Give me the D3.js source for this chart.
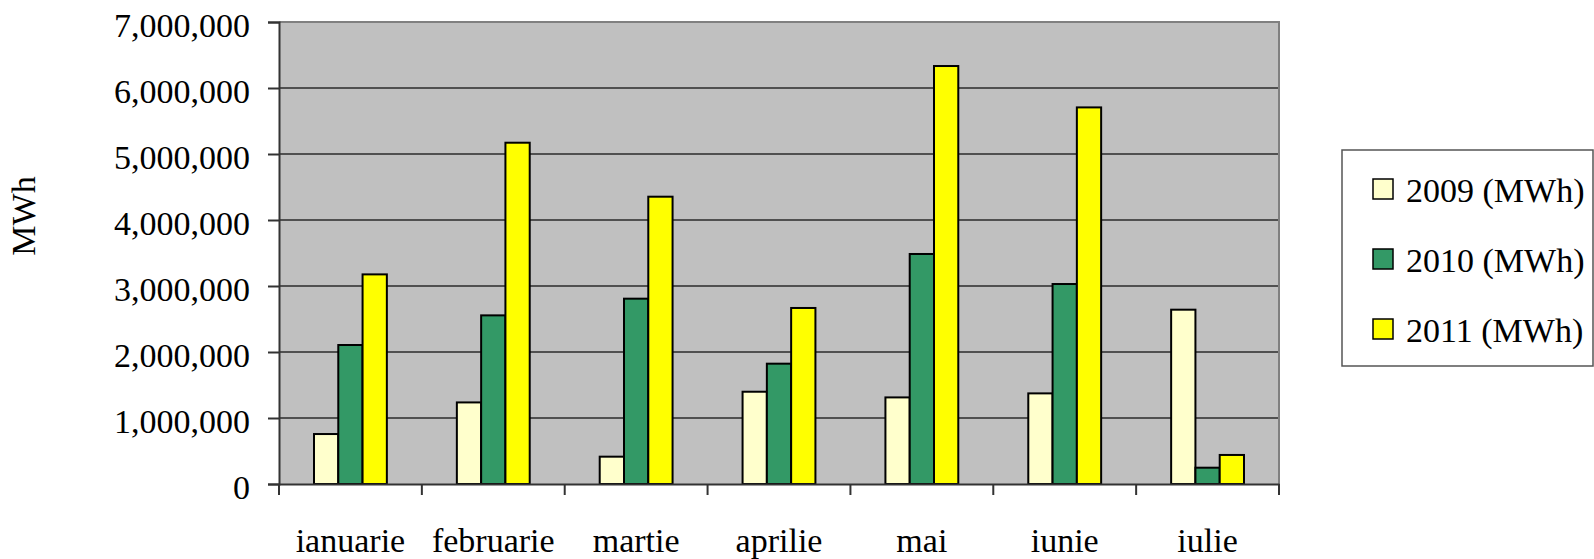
<!DOCTYPE html>
<html>
<head>
<meta charset="utf-8">
<script src="https://cdn.jsdelivr.net/npm/d3@7"></script>
<style>
  body { margin: 0; background: #fff; }
  svg { display: block; }
  text { font-family: "Liberation Serif", "Times New Roman", serif; fill: #000; }
</style>
</head>
<body>
<svg id="chart"></svg>
<script>
var months = ["ianuarie", "februarie", "martie", "aprilie", "mai", "iunie", "iulie"];
var seriesNames = ["2009 (MWh)", "2010 (MWh)", "2011 (MWh)"];
var values2009 = [757000, 1236000, 414000, 1398000, 1312000, 1373000, 2641000];
var values2010 = [2106000, 2555000, 2808000, 1823000, 3485000, 3030000, 247000];
var values2011 = [3176000, 5171000, 4353000, 2667000, 6333000, 5706000, 440000];
var yTicks = [0, 1000000, 2000000, 3000000, 4000000, 5000000, 6000000, 7000000];
var colors = ["#FFFFCC", "#339966", "#FFFF00"];

var allValues = [values2009, values2010, values2011];

var W = 1594, H = 559;
var margin = {top: 22, right: 315, bottom: 75, left: 279};
var width = W - margin.left - margin.right,
    height = H - margin.top - margin.bottom;

var svg = d3.select("svg#chart")
            .attr("width", W)
            .attr("height", H);

var g = svg.append("g")
           .attr("transform", "translate(" + margin.left + "," + margin.top + ")");

var x0 = d3.scaleBand().domain(months).range([0, width]).padding(0);
var groupW = x0.bandwidth() * 0.51;
var x1 = d3.scaleBand().domain(seriesNames).range([0, groupW]);
var y = d3.scaleLinear().domain([0, 7000000]).range([height, 0]);

// plot background
g.append("rect")
  .attr("x", 0).attr("y", 0)
  .attr("width", width).attr("height", height)
  .attr("fill", "#C0C0C0");

// gridlines
g.selectAll(".grid")
  .data(yTicks.slice(1, -1))
  .enter().append("line")
  .attr("class", "grid")
  .attr("x1", 0).attr("x2", width)
  .attr("y1", function(d) { return y(d); })
  .attr("y2", function(d) { return y(d); })
  .attr("stroke", "#505050")
  .attr("stroke-width", 2);

// top and right border
g.append("path")
  .attr("d", "M0," + y(7000000) + "H" + width + "V" + height)
  .attr("fill", "none")
  .attr("stroke", "#808080")
  .attr("stroke-width", 2);

// bars
var groups = g.selectAll(".month")
  .data(months)
  .enter().append("g")
  .attr("class", "month")
  .attr("transform", function(d) {
    return "translate(" + (x0(d) + (x0.bandwidth() - groupW) / 2) + ",0)";
  });

groups.selectAll("rect")
  .data(function(d, i) {
    return seriesNames.map(function(s, j) { return {s: s, j: j, v: allValues[j][i]}; });
  })
  .enter().append("rect")
  .attr("x", function(d) { return x1(d.s); })
  .attr("y", function(d) { return y(d.v); })
  .attr("width", x1.bandwidth())
  .attr("height", function(d) { return height - y(d.v); })
  .attr("fill", function(d) { return colors[d.j]; })
  .attr("stroke", "#000")
  .attr("stroke-width", 2);

// y axis
var yAxis = g.append("g")
  .call(d3.axisLeft(y).tickValues(yTicks).tickFormat(d3.format(",")).tickSizeOuter(0).tickSize(11).tickPadding(18));
yAxis.select(".domain").attr("stroke", "#333").attr("stroke-width", 2);
yAxis.selectAll(".tick line").attr("stroke", "#333").attr("stroke-width", 2);
yAxis.selectAll(".tick text")
  .attr("font-size", 34)
  .attr("font-family", "Liberation Serif, Times New Roman, serif")
  .attr("dy", "0.44em");

// x axis
var xAxis = g.append("g")
  .attr("transform", "translate(0," + height + ")")
  .call(d3.axisBottom(x0).tickSize(0).tickSizeOuter(0).tickPadding(44));
xAxis.select(".domain").attr("stroke", "#333").attr("stroke-width", 2);
xAxis.selectAll(".tick text")
  .attr("font-size", 34)
  .attr("font-family", "Liberation Serif, Times New Roman, serif");

// category separator ticks
g.selectAll(".xtick")
  .data(months.concat(["end"]))
  .enter().append("line")
  .attr("class", "xtick")
  .attr("x1", function(d, i) { return i * x0.step(); })
  .attr("x2", function(d, i) { return i * x0.step(); })
  .attr("y1", height)
  .attr("y2", height + 11)
  .attr("stroke", "#333")
  .attr("stroke-width", 2);

// y axis title
svg.append("text")
  .attr("transform", "translate(35,216) rotate(-90)")
  .attr("text-anchor", "middle")
  .attr("font-size", 34)
  .text("MWh");

// legend
var legend = svg.append("g").attr("transform", "translate(1342,150)");
legend.append("rect")
  .attr("x", 0).attr("y", 0)
  .attr("width", 251).attr("height", 216)
  .attr("fill", "#fff")
  .attr("stroke", "#555")
  .attr("stroke-width", 1.5);

var items = legend.selectAll(".item")
  .data(seriesNames)
  .enter().append("g")
  .attr("class", "item")
  .attr("transform", function(d, i) { return "translate(0," + (29 + i * 70) + ")"; });

items.append("rect")
  .attr("x", 31).attr("y", 0)
  .attr("width", 20).attr("height", 20)
  .attr("fill", function(d, i) { return colors[i]; })
  .attr("stroke", "#000")
  .attr("stroke-width", 1.5);

items.append("text")
  .attr("x", 64)
  .attr("y", 23)
  .attr("font-size", 34)
  .text(function(d) { return d; });
</script>
</body>
</html>
